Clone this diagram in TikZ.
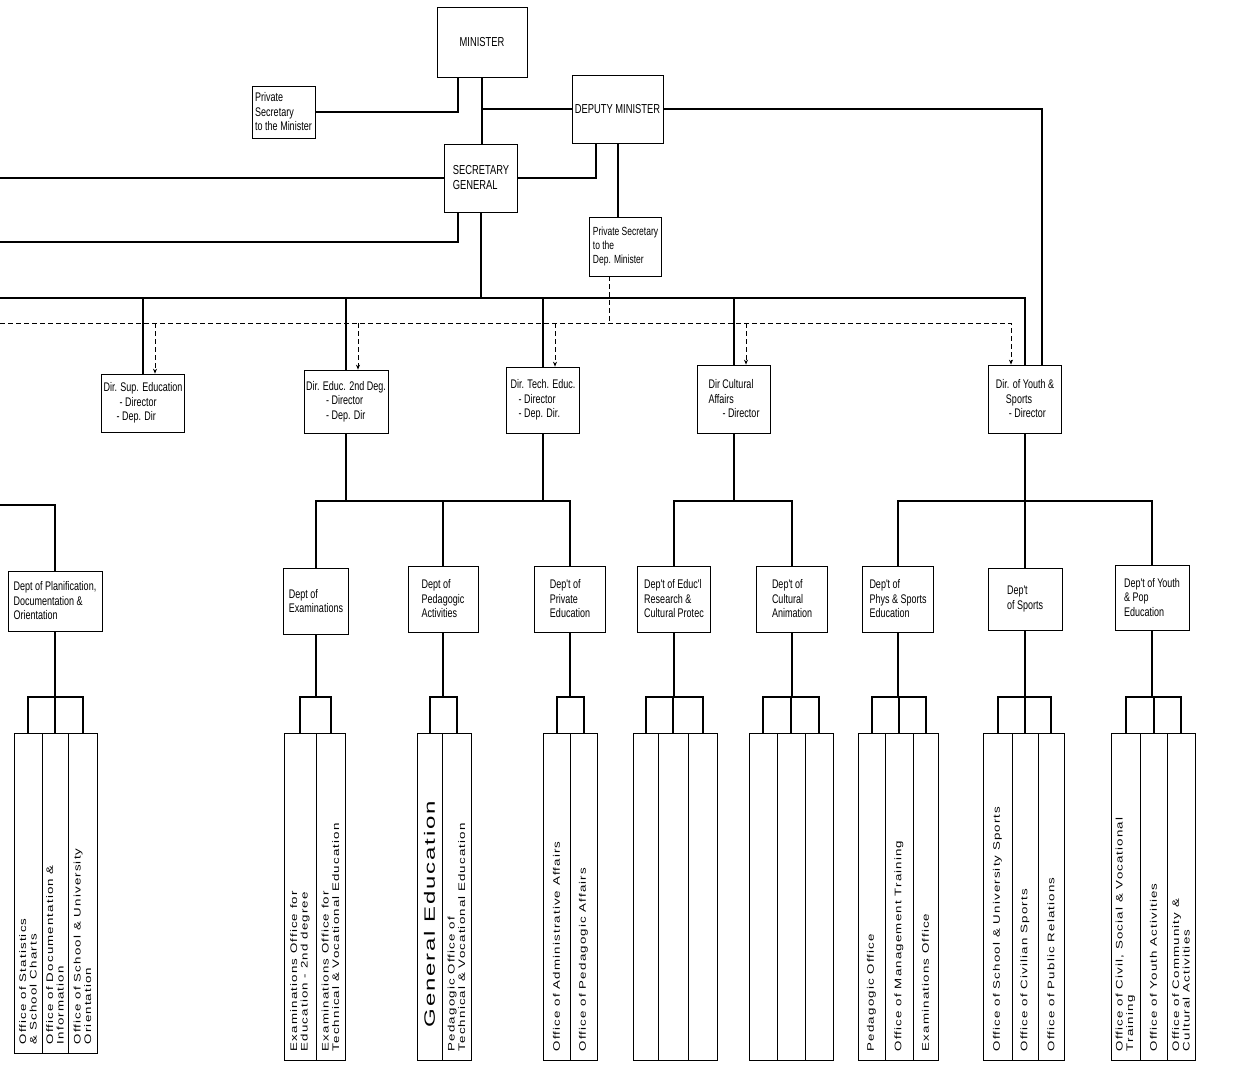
\documentclass[tikz,border=0pt]{standalone}
\usepackage{fontspec}
\setmainfont{Liberation Sans}
\newfontfamily\condfont[FakeStretch=0.72]{Liberation Sans}
\newfontfamily\widefont[FakeStretch=1.4,LetterSpace=12]{Liberation Sans}
\newfontfamily\widerfont[FakeStretch=1.6,LetterSpace=12]{Liberation Sans}
\usetikzlibrary{arrows.meta}
\newcommand\officecol[5]{%
  \node[ocol, minimum width={(#3-#2)*1pt}, minimum height={(#4-733)*1pt}] (#1) at ({(#2+#3)/2},{(733+#4)/2}) {};
  \node[otext] at ([yshift=9pt]#1.south) {#5};%
}
\begin{document}
\begin{tikzpicture}[x=1pt,y=-1pt,
  box/.style={draw, line width=0.7pt, inner sep=2pt, align=left, font=\condfont\fontsize{12.5}{14.5}\selectfont},
  conn/.style={line width=2pt},
  dsh/.style={line width=1pt, dash pattern=on 5pt off 3pt},
  ocol/.style={draw, line width=0.6pt, inner sep=0pt},
  otext/.style={rotate=90, anchor=west, align=left, inner sep=0pt, font=\widefont\fontsize{9.5}{10.5}\selectfont},
  tip/.style={-{Stealth[length=5pt,width=4pt]}}
]
\path[fill=white] (0,0) rectangle (1233,1067);
\useasboundingbox (0,0) rectangle (1233,1067);

% ---------- top level ----------
\node[box, minimum width=90pt, minimum height=70pt, font=\condfont\fontsize{13}{15}\selectfont] (min) at (482,42) {MINISTER};
\node[box, minimum width=63pt, minimum height=52pt] (psm) at (283.5,112) {Private\\Secretary\\to the Minister};
\node[box, minimum width=91pt, minimum height=68pt, font=\condfont\fontsize{13}{15}\selectfont] (dm) at (617.5,109) {DEPUTY MINISTER};
\node[box, minimum width=73pt, minimum height=68pt, font=\condfont\fontsize{13}{15}\selectfont] (sg) at (481,178) {SECRETARY\\GENERAL};
\node[box, minimum width=72pt, minimum height=59pt, inner sep=1.5pt, font=\condfont\fontsize{11.8}{14}\selectfont] (psdm) at (625.5,246.5) {Private Secretary\\to the\\Dep. Minister};

% ---------- directors ----------
\node[box, minimum width=83pt, minimum height=58pt] (dsup) at (143,403) {Dir. Sup. Education\\\hspace*{16pt}- Director\\\hspace*{13pt}- Dep. Dir};
\node[box, minimum width=84pt, minimum height=63pt] (deduc) at (346,401.5) {Dir. Educ. 2nd Deg.\\\hspace*{20pt}- Director\\\hspace*{20pt}- Dep. Dir};
\node[box, minimum width=73pt, minimum height=66pt] (dtech) at (543,400) {Dir. Tech. Educ.\\\hspace*{8pt}- Director\\\hspace*{8pt}- Dep. Dir.};
\node[box, minimum width=73pt, minimum height=68pt] (dcult) at (734,399) {Dir Cultural\\Affairs\\\hspace*{14pt}- Director};
\node[box, minimum width=73pt, minimum height=68pt] (dyouth) at (1025,399) {Dir. of Youth \&\\\hspace*{10pt}Sports\\\hspace*{13pt}- Director};

% ---------- departments ----------
\node[box, minimum width=94pt, minimum height=60pt] (plan) at (55,601) {Dept of Planification,\\Documentation \&\\Orientation};
\node[box, minimum width=65pt, minimum height=66pt] (exam) at (316,601) {Dept of\\Examinations};
\node[box, minimum width=70pt, minimum height=66pt] (ped) at (443,599) {Dept of\\Pedagogic\\Activities};
\node[box, minimum width=71pt, minimum height=66pt] (priv) at (570,599) {Dep't of\\Private\\Education};
\node[box, minimum width=73pt, minimum height=66pt] (res) at (674,599) {Dep't of Educ'l\\Research \&\\Cultural Protec};
\node[box, minimum width=71pt, minimum height=66pt] (anim) at (792,599) {Dep't of\\Cultural\\Animation};
\node[box, minimum width=71pt, minimum height=66pt] (phys) at (898,599) {Dep't of\\Phys \& Sports\\Education};
\node[box, minimum width=74pt, minimum height=62pt] (sports) at (1025,599) {Dep't\\of Sports};
\node[box, minimum width=74pt, minimum height=65pt] (ypop) at (1152,597.5) {Dep't of Youth\\\& Pop\\Education};

% ---------- offices ----------
\officecol{c11}{14}{42}{1053}{Office of Statistics\\\& School Charts}
\officecol{c12}{42}{68}{1053}{Office of Documentation \&\\Information}
\officecol{c13}{68}{97}{1053}{Office of School \& University\\Orientation}
\officecol{c21}{284}{316}{1060}{Examinations Office for\\Education - 2nd degree}
\officecol{c22}{316}{345}{1060}{Examinations Office for\\Technical \& Vocational Education}
\officecol{c31}{417}{442}{1060}{\widerfont\fontsize{15}{17}\selectfont\hspace*{24pt}General Education}
\officecol{c32}{442}{471}{1060}{Pedagogic Office of\\Technical \& Vocational Education}
\officecol{c41}{543}{570}{1060}{Office of Administrative Affairs}
\officecol{c42}{570}{597}{1060}{Office of Pedagogic Affairs}
\officecol{c51}{633}{658}{1060}{}
\officecol{c52}{658}{688}{1060}{}
\officecol{c53}{688}{717}{1060}{}
\officecol{c61}{749}{777}{1060}{}
\officecol{c62}{777}{805}{1060}{}
\officecol{c63}{805}{833}{1060}{}
\officecol{c71}{858}{885}{1060}{Pedagogic Office}
\officecol{c72}{885}{913}{1060}{Office of Management Training}
\officecol{c73}{913}{938}{1060}{Examinations Office}
\officecol{c81}{983}{1012}{1060}{Office of School \& University Sports}
\officecol{c82}{1012}{1038}{1060}{Office of Civilian Sports}
\officecol{c83}{1038}{1064}{1060}{Office of Public Relations}
\officecol{c91}{1111}{1140}{1060}{Office of Civil, Social \& Vocational\\Training}
\officecol{c92}{1140}{1167}{1060}{Office of Youth Activities}
\officecol{c93}{1167}{1195}{1060}{Office of Community \&\\Cultural Activities}

% ---------- free ends ----------
\coordinate (L1) at (0,178);
\coordinate (L2) at (0,242);
\coordinate (B0) at (0,298);
\coordinate (D0) at (0,323);
\coordinate (P0) at (0,505);
\coordinate (E0) at (0,501);
\coordinate (K0) at (0,697);

% ---------- top connectors ----------
\coordinate (minL) at ([xshift=-24pt]min.south);
\draw[conn] (minL) |- (psm.east);
\draw[conn] (min.south |- sg.north) -- (min.south);
\draw[conn] (min.south |- dm.west) -- (dm.west);
\coordinate (dmR) at ([xshift=17pt]dyouth.north);
\draw[conn] (dm.east) -| (dmR);
\coordinate (dmL) at ([xshift=-22pt]dm.south);
\draw[conn] (dmL) |- (sg.east);
\draw[conn] (dm.south) -- (dm.south |- psdm.north);
\draw[conn] (sg.west) -- (L1);
\coordinate (sgL) at ([xshift=-23pt]sg.south);
\draw[conn] (sgL) |- (L2);
\draw[conn] (sg.south) -- (sg.south |- B0);
\draw[conn] (B0) -| (dyouth.north);
\coordinate (dyA) at ([xshift=-14pt]dyouth.north);
\draw[dsh,tip] (D0) -| (dyA);
\coordinate (psdmL) at ([xshift=-16pt]psdm.south);
\draw[dsh, line width=0.5pt] (psdmL) -- (psdmL |- D0);

% ---------- directors from buses ----------
\draw[conn] (dsup.north |- B0) -- (dsup.north);
\coordinate (dsupA) at ([xshift=12pt]dsup.north);
\draw[dsh,tip] (dsupA |- D0) -- (dsupA);
\draw[conn] (deduc.north |- B0) -- (deduc.north);
\coordinate (deducA) at ([xshift=12pt]deduc.north);
\draw[dsh,tip] (deducA |- D0) -- (deducA);
\draw[conn] (dtech.north |- B0) -- (dtech.north);
\coordinate (dtechA) at ([xshift=12pt]dtech.north);
\draw[dsh,tip] (dtechA |- D0) -- (dtechA);
\draw[conn] (dcult.north |- B0) -- (dcult.north);
\coordinate (dcultA) at ([xshift=12pt]dcult.north);
\draw[dsh,tip] (dcultA |- D0) -- (dcultA);

% ---------- departments ----------
\draw[conn] (P0) -| (plan.north);
\draw[conn] (exam.north) |- (priv.north |- E0) -- (priv.north);
\draw[conn] (ped.north) -- (ped.north |- E0);
\draw[conn] (deduc.south) -- (deduc.south |- E0);
\draw[conn] (dtech.south) -- (dtech.south |- E0);
\draw[conn] (res.north) |- (anim.north |- E0) -- (anim.north);
\draw[conn] (dcult.south) -- (dcult.south |- E0);
\draw[conn] (phys.north) |- (ypop.north |- E0) -- (ypop.north);
\draw[conn] (dyouth.south) -- (sports.north);

% ---------- office brackets ----------
\draw[conn] (c11.north) |- (c13.north |- K0) -- (c13.north);
\draw[conn] (plan.south) -- (plan.south |- K0);
\draw[conn] (c12.north |- K0) -- (c12.north);
\draw[conn] (c21.north) |- (c22.north |- K0) -- (c22.north);
\draw[conn] (exam.south) -- (exam.south |- K0);
\draw[conn] (c31.north) |- (c32.north |- K0) -- (c32.north);
\draw[conn] (ped.south) -- (ped.south |- K0);
\draw[conn] (c41.north) |- (c42.north |- K0) -- (c42.north);
\draw[conn] (priv.south) -- (priv.south |- K0);
\draw[conn] (c51.north) |- (c53.north |- K0) -- (c53.north);
\draw[conn] (res.south) -- (res.south |- K0);
\draw[conn] (c52.north |- K0) -- (c52.north);
\draw[conn] (c61.north) |- (c63.north |- K0) -- (c63.north);
\draw[conn] (anim.south) -- (anim.south |- K0);
\draw[conn] (c62.north |- K0) -- (c62.north);
\draw[conn] (c71.north) |- (c73.north |- K0) -- (c73.north);
\draw[conn] (phys.south) -- (phys.south |- K0);
\draw[conn] (c72.north |- K0) -- (c72.north);
\draw[conn] (c81.north) |- (c83.north |- K0) -- (c83.north);
\draw[conn] (sports.south) -- (sports.south |- K0);
\draw[conn] (c82.north |- K0) -- (c82.north);
\draw[conn] (c91.north) |- (c93.north |- K0) -- (c93.north);
\draw[conn] (ypop.south) -- (ypop.south |- K0);
\draw[conn] (c92.north |- K0) -- (c92.north);
\end{tikzpicture}
\end{document}
